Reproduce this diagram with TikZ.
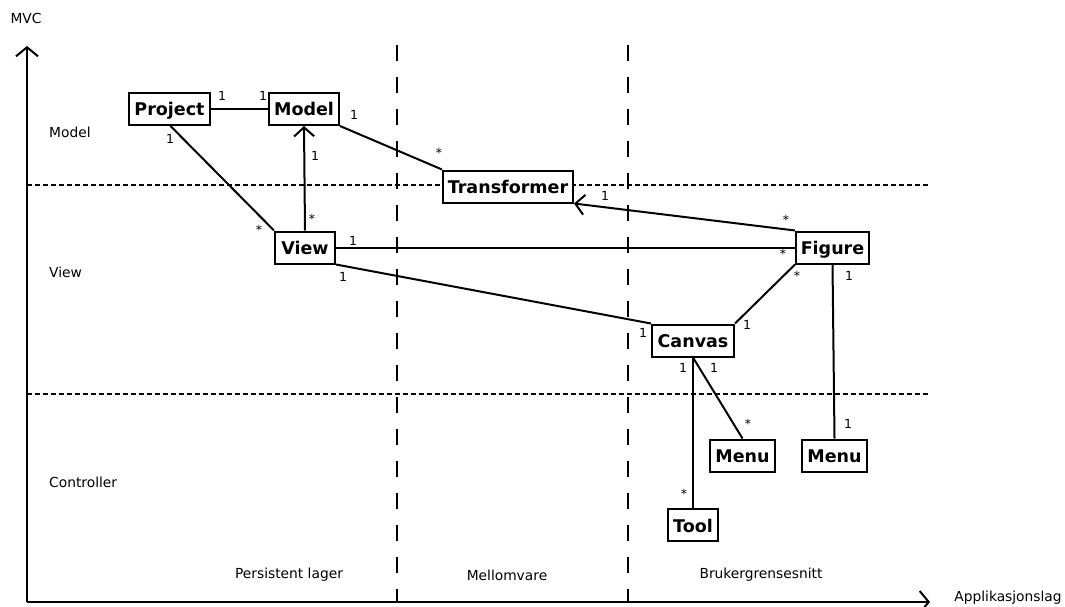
\documentclass[tikz,border=0pt]{standalone}
\usepackage{fontspec}
\setmainfont{DejaVu Sans}
\usetikzlibrary{arrows.meta}
\begin{document}
\begin{tikzpicture}[x=1pt,y=-1pt,
  cls/.style={draw,fill=white,line width=2pt,font=\fontsize{17.5}{19}\selectfont\bfseries,inner sep=0pt,
    text height=14pt,text depth=0pt,minimum height=32pt},
  link/.style={line width=2pt},
  nav/.style={line width=2pt,-{Straight Barb[length=9pt,width=20pt,line width=2pt]}},
  mult/.style={font=\fontsize{12.5}{14}\selectfont,inner sep=0pt},
  lbl/.style={font=\fontsize{13.8}{15}\selectfont,inner sep=0pt},
  axis/.style={line width=2pt,-{Straight Barb[length=9pt,width=22pt,line width=2pt]}},
  layer/.style={line width=1.8pt,dash pattern=on 5pt off 3pt},
  tier/.style={line width=2.2pt,dash pattern=on 16pt off 16pt}]
\useasboundingbox (0,0) rectangle (1065,607);

% axes
\coordinate (origin) at (27,602);
\coordinate (ytip) at (27,46);
\coordinate (xtip) at (930,602);
\draw[axis] (origin) -- (ytip);
\draw[axis] (origin) -- (xtip);
\node[lbl] (mvc) at (26,18) {MVC};
\node[lbl] (app) at (1008,598) {Applikasjonslag};

% layer separators
\coordinate (l1a) at (27,185); \coordinate (l1b) at (930,185);
\coordinate (l2a) at (27,394); \coordinate (l2b) at (930,394);
\draw[layer] (l1a) -- (l1b);
\draw[layer] (l2a) -- (l2b);
\coordinate (t1a) at (397,45); \coordinate (t1b) at (397,602);
\coordinate (t2a) at (628,45); \coordinate (t2b) at (628,602);
\draw[tier] (t1a) -- (t1b);
\draw[tier] (t2a) -- (t2b);

% layer and tier names
\node[lbl,anchor=west] (lm) at (49,132) {Model};
\node[lbl,anchor=west] (lv) at (49,272) {View};
\node[lbl,anchor=west] (lc) at (49,482) {Controller};
\node[lbl] (tp) at (289,575) {Persistent lager};
\node[lbl] (tm) at (507,575) {Mellomvare};
\node[lbl] (tb) at (761,575) {Brukergrensesnitt};

% classes
\node[cls,minimum width=81pt] (project) at (169.5,109) {Project};
\node[cls,minimum width=70pt] (model) at (304,109) {Model};
\node[cls,minimum width=130pt] (trans) at (508,186.5) {Transformer};
\node[cls,minimum width=60pt] (view) at (305,247.5) {View};
\node[cls,minimum width=73pt] (figure) at (832.5,247.5) {Figure};
\node[cls,minimum width=82pt] (canvas) at (693,340.5) {Canvas};
\node[cls,minimum width=65pt] (menua) at (742.5,455.5) {Menu};
\node[cls,minimum width=65pt] (menub) at (834.5,455.5) {Menu};
\node[cls,minimum width=50pt] (tool) at (693,525) {Tool};

% associations
\draw[link] (project.east) -- (model.west);
\draw[link] ([xshift=1pt]project.south) -- (view.north west);
\draw[nav] (view.north) -- (model.south);
\draw[link] (model.south east) -- (trans.north west);
\draw[nav] (figure.north west) -- (trans.south east);
\draw[link] (view.east) -- (figure.west);
\draw[link] (view.south east) -- (canvas.north west);
\draw[link] (figure.south west) -- (canvas.north east);
\draw[link] (figure.south) -- (menub.north);
\draw[link] (canvas.south) -- (tool.north);
\draw[link] (canvas.south) -- (menua.north);

% multiplicities
\node[mult] (m1) at (222,96) {1};
\node[mult] (m2) at (263,96) {1};
\node[mult] (m3) at (170,139) {1};
\node[mult] (m4) at (259,230) {*};
\node[mult] (m5) at (315,156) {1};
\node[mult] (m6) at (312,219) {*};
\node[mult] (m7) at (354,115) {1};
\node[mult] (m8) at (439,153) {*};
\node[mult] (m9) at (605,196) {1};
\node[mult] (m10) at (786,220) {*};
\node[mult] (m11) at (353,241) {1};
\node[mult] (m12) at (783,254) {*};
\node[mult] (m13) at (343,277) {1};
\node[mult] (m14) at (643,333) {1};
\node[mult] (m15) at (797,276) {*};
\node[mult] (m16) at (747,325) {1};
\node[mult] (m17) at (849,276) {1};
\node[mult] (m18) at (848,424) {1};
\node[mult] (m19) at (683,368) {1};
\node[mult] (m20) at (684,494) {*};
\node[mult] (m21) at (714,368) {1};
\node[mult] (m22) at (748,424) {*};
\end{tikzpicture}
\end{document}
